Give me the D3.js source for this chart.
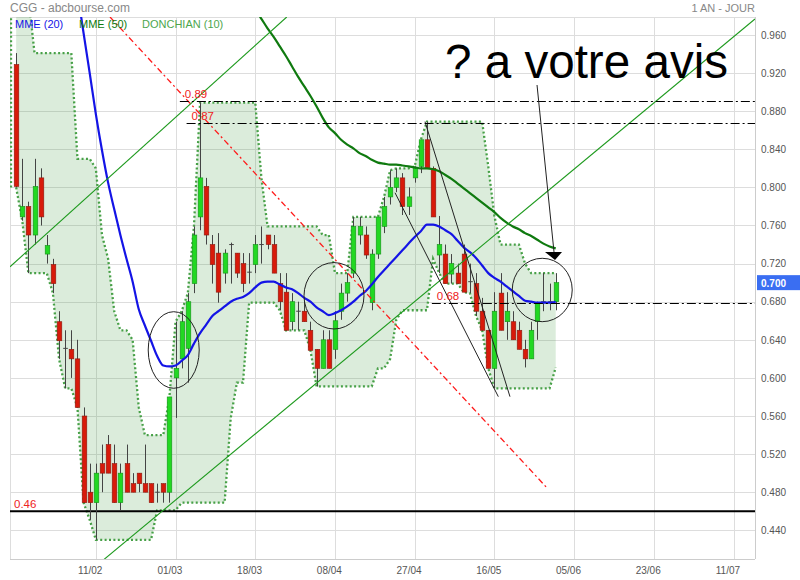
<!DOCTYPE html>
<html><head><meta charset="utf-8">
<script src="https://cdn.jsdelivr.net/npm/d3@7"></script>
<style>body{margin:0;background:#fff}text{font-family:"Liberation Sans",Arial,Helvetica,sans-serif}</style>
</head><body>
<svg id="c" width="800" height="580"></svg>
<script>
// ---------- DATA ----------
const tickLabels = ["11/02","01/03","18/03","08/04","27/04","16/05","05/06","23/06","11/07"];
const tickIdx   = [12,25,38,51,64,77,90,103,116];
const gridIdx   = [13,26,39,52,65,78,91,104,117];
const yTicks = [0.44,0.48,0.52,0.56,0.60,0.64,0.68,0.72,0.76,0.80,0.84,0.88,0.92,0.96];

const open  = [.929,.769,.780,.750,.810,.730,.719,.659,.631,.630,.620,.560,.480,.469,.510,.530,.510,.469,.510,.489,
               .500,.489,.489,.480,.489,.480,.600,.620,.631,.699,.769,.801,.740,.731,.710,.740,.731,.720,.711,.719,
               .740,.750,.740,.699,.690,.659,.670,.670,.650,.630,.610,.640,.630,.670,.689,.710,.750,.750,.679,.730,
               .759,.790,.800,.810,.780,.810,.822,.850,.820,.729,.730,.709,.710,.730,.701,.699,.670,.650,.610,.689,
               .659,.659,.650,.630,.620,.659,.679,.680,.680];
const high  = [.941,.830,.785,.830,.820,.750,.725,.670,.650,.650,.640,.569,.510,.510,.530,.540,.530,.510,.530,.500,
               .500,.530,.489,.489,.489,.580,.659,.670,.689,.759,.889,.810,.750,.752,.735,.742,.731,.731,.731,.750,
               .759,.750,.750,.710,.710,.689,.680,.680,.659,.630,.650,.650,.670,.699,.710,.769,.769,.759,.735,.769,
               .790,.818,.820,.815,.800,.822,.850,.869,.822,.770,.740,.730,.720,.740,.720,.710,.684,.650,.690,.710,
               .690,.670,.659,.640,.659,.680,.710,.699,.710];
const low   = [.800,.765,.710,.740,.760,.720,.689,.620,.589,.600,.569,.469,.451,.430,.480,.500,.469,.461,.480,.480,
               .480,.480,.469,.469,.469,.469,.558,.610,.595,.689,.755,.740,.699,.679,.699,.699,.705,.690,.699,.710,
               .720,.735,.710,.671,.650,.650,.650,.659,.629,.591,.610,.610,.620,.661,.680,.705,.740,.725,.671,.725,
               .752,.782,.795,.771,.771,.805,.815,.820,.769,.710,.699,.699,.699,.690,.689,.665,.650,.610,.589,.650,
               .640,.640,.630,.611,.620,.640,.670,.671,.671];
const close = [.801,.780,.750,.801,.769,.739,.699,.639,.630,.620,.569,.469,.469,.500,.500,.500,.469,.500,.480,.480,
               .489,.480,.469,.480,.480,.580,.610,.659,.680,.750,.810,.750,.719,.690,.731,.739,.710,.699,.710,.740,
               .740,.740,.710,.680,.650,.680,.670,.659,.629,.610,.640,.610,.660,.689,.700,.759,.759,.729,.730,.769,
               .780,.800,.810,.780,.790,.820,.850,.820,.769,.740,.699,.720,.699,.690,.699,.670,.650,.610,.670,.650,
               .670,.640,.630,.620,.650,.678,.680,.679,.700];

const mme20 = [null,null,null,null,null,null,null,null,null,null,
               1.005,.962,.920,.877,.839,.805,.777,.750,.725,.701,.672,.655,.639,.623,.613,.612,.613,.618,.624,.636,
               .647,.656,.665,.670,.675,.680,.683,.685,.689,.695,.700,.701,.701,.698,.695,.693,.689,.684,.680,.674,
               .670,.666,.668,.671,.675,.680,.686,.691,.698,.706,.713,.720,.727,.734,.741,.748,.754,.761,.761,.759,
               .755,.751,.744,.737,.732,.726,.718,.710,.705,.701,.696,.691,.686,.681,.680,.679,.679,.679,.680];
const mme50 = [null,null,null,null,null,null,null,null,null,null,null,null,null,null,null,null,null,null,null,null,
               null,null,null,null,null,null,null,null,null,null,null,null,null,null,null,null,null,null,
               .996,.987,.977,.967,.958,.948,.938,.927,.916,.906,.896,.885,.873,.863,.857,.850,.845,.841,.836,.833,
               .829,.826,.825,.824,.824,.823,.822,.821,.820,.820,.819,.817,.813,.809,.804,.799,.794,.789,.784,.779,
               .774,.768,.763,.759,.756,.752,.749,.745,.741,.738,.736];

const donchUp  = [1.00,1.00,1.00,.941,.941,.941,.941,.941,.941,.941,.830,.830,.830,.820,.750,.725,.670,.650,.650,.640,
                  .569,.540,.540,.540,.540,.580,.659,.670,.689,.759,.889,.889,.889,.889,.889,.889,.889,.889,.889,.889,
                  .810,.759,.759,.759,.759,.759,.759,.759,.759,.759,.750,.750,.710,.710,.710,.769,.769,.769,.769,.769,
                  .790,.818,.820,.820,.820,.822,.850,.869,.869,.869,.869,.869,.869,.869,.869,.869,.869,.822,.770,.740,
                  .740,.740,.740,.720,.710,.710,.710,.710,.710];
const donchLow = [.800,.765,.710,.710,.710,.710,.689,.620,.589,.589,.569,.469,.451,.430,.430,.430,.430,.430,.430,.430,
                  .430,.430,.430,.461,.461,.461,.461,.469,.469,.469,.469,.469,.469,.469,.469,.558,.595,.595,.679,.679,
                  .679,.679,.679,.671,.650,.650,.650,.650,.629,.591,.591,.591,.591,.591,.591,.591,.591,.591,.591,.610,
                  .610,.620,.661,.671,.671,.671,.671,.671,.725,.710,.699,.699,.699,.690,.689,.665,.650,.610,.589,.589,
                  .589,.589,.589,.589,.589,.589,.589,.589,.611];

// annotation levels & drawn lines (data coordinates: candle index, price)
const levels = [
  {v:0.891, from:26.7, label:"0.89"},
  {v:0.868, from:27.8, label:"0.87"},
  {v:0.679, from:67.8, label:"0.68"}
];
const supportLevel = {v:0.46, label:"0.46"};
const greenLines = [[[-1,0.7167],[44.13,0.9789]], [[14.22,0.4088],[120.5,0.9768]]];
const redLine = [[15.31,0.9789],[86.74,0.4834]];
const blackLines = [[[66.68,0.869],[80.54,0.5803]], [[61.79,0.7944],[78.64,0.5803]]];
const arrowLine = [[84.95,0.9075],[87.72,0.7322]];
const ellipses = [{i:25.7,v:0.6293,rx:25.5,ry:38.3},{i:51.84,v:0.6862,rx:30,ry:33.2},{i:85.8,v:0.6923,rx:30,ry:31.7}];

// ---------- CHART ----------
const P = {l:10, r:755, t:17, b:559};
const svg = d3.select("#c");
const x = d3.scaleLinear().domain([-1,120.5]).range([P.l,P.r]);
const y = d3.scaleLinear().domain([0.44,0.96]).range([530.3,35]);

svg.append("defs").append("clipPath").attr("id","clip")
  .append("rect").attr("x",P.l).attr("y",P.t).attr("width",P.r-P.l).attr("height",P.b-P.t);

// grid
const grid = svg.append("g");
grid.selectAll(".hg").data(yTicks).join("line")
  .attr("x1",P.l).attr("x2",P.r).attr("y1",d=>Math.round(y(d))+0.5).attr("y2",d=>Math.round(y(d))+0.5)
  .attr("stroke","#dddddd");
grid.selectAll(".vg").data(gridIdx).join("line")
  .attr("y1",P.t).attr("y2",P.b).attr("x1",d=>Math.round(x(d))+0.5).attr("x2",d=>Math.round(x(d))+0.5)
  .attr("stroke","#dddddd");
// frame
svg.append("line").attr("x1",P.l).attr("x2",P.r).attr("y1",P.t+0.5).attr("y2",P.t+0.5).attr("stroke","#dddddd");
svg.append("line").attr("x1",P.l).attr("x2",P.r).attr("y1",P.b+0.5).attr("y2",P.b+0.5).attr("stroke","#cccccc");
svg.append("line").attr("x1",P.l+0.5).attr("x2",P.l+0.5).attr("y1",P.t).attr("y2",P.b).attr("stroke","#dddddd");

const g = svg.append("g").attr("clip-path","url(#clip)");
const idx = d3.range(open.length);

// Donchian band
const area = d3.area().x(i=>x(i)).y0(i=>y(donchLow[i])).y1(i=>y(donchUp[i]));
g.append("path").datum(idx).attr("d",area).attr("fill","rgba(76,160,76,0.2)");
const bandStroke = {stroke:"#47a047","stroke-width":2.3,"stroke-dasharray":"2,2.4",fill:"none"};
function styleIt(sel,o){for(const k in o) sel.attr(k,o[k]); return sel;}
styleIt(g.append("path").datum(idx).attr("d",d3.line().x(i=>x(i)).y(i=>y(donchUp[i]))),bandStroke);
styleIt(g.append("path").datum(idx).attr("d",d3.line().x(i=>x(i)).y(i=>y(donchLow[i]))),bandStroke);
styleIt(g.append("line").attr("x1",P.l+1).attr("x2",P.l+1).attr("y1",y(donchLow[0])).attr("y2",y(donchUp[0])),bandStroke);

// support line 0.46
g.append("line").attr("x1",P.l).attr("x2",P.r).attr("y1",y(supportLevel.v)).attr("y2",y(supportLevel.v))
  .attr("stroke","#000").attr("stroke-width",2);

// candles
const bw = 4.6;
const cg = g.append("g");
idx.forEach(i=>{
  const up = close[i] >= open[i];
  const cx = Math.round(x(i))+0.5;
  cg.append("line").attr("x1",cx).attr("x2",cx).attr("y1",y(high[i])).attr("y2",y(low[i]))
    .attr("stroke","#444").attr("stroke-width",1);
  const top = y(Math.max(open[i],close[i])), bot = y(Math.min(open[i],close[i]));
  const h = Math.max(1, bot-top);
  if (Math.abs(open[i]-close[i]) < 0.0025) {
    cg.append("line").attr("x1",cx-bw/2).attr("x2",cx+bw/2).attr("y1",top).attr("y2",top)
      .attr("stroke","#444").attr("stroke-width",1);
  } else {
    cg.append("rect").attr("x",cx-bw/2).attr("y",top).attr("width",bw).attr("height",h)
      .attr("fill",up?"#22d822":"#d81a0a").attr("stroke",up?"#15901a":"#8a1a10").attr("stroke-width",0.6);
  }
});

// moving averages
g.append("path").datum(idx).attr("d",d3.line().defined(i=>mme20[i]!=null).x(i=>x(i)).y(i=>y(mme20[i])).curve(d3.curveMonotoneX))
  .attr("fill","none").attr("stroke","#1414e6").attr("stroke-width",2.2);
g.append("path").datum(idx).attr("d",d3.line().defined(i=>mme50[i]!=null).x(i=>x(i)).y(i=>y(mme50[i])).curve(d3.curveMonotoneX))
  .attr("fill","none").attr("stroke","#0f7a0f").attr("stroke-width",2.2);

// trend lines
const lp = d3.line().x(d=>x(d[0])).y(d=>y(d[1]));
greenLines.forEach(l=>g.append("path").attr("d",lp(l)).attr("stroke","#1e9a1e").attr("stroke-width",1.1).attr("fill","none"));
g.append("path").attr("d",lp(redLine)).attr("stroke","#ff1a1a").attr("stroke-width",1.3).attr("stroke-dasharray","6,3,2,3").attr("fill","none");
blackLines.forEach(l=>g.append("path").attr("d",lp(l)).attr("stroke","#222").attr("stroke-width",1).attr("fill","none"));

// levels
levels.forEach(L=>{
  g.append("line").attr("x1",x(L.from)).attr("x2",P.r).attr("y1",Math.round(y(L.v))+0.5).attr("y2",Math.round(y(L.v))+0.5)
   .attr("stroke","#000").attr("stroke-width",1.1).attr("stroke-dasharray","9,3,2,3");
  svg.append("text").attr("x",x(L.from)+5).attr("y",y(L.v)-3).attr("fill","#ee2222").attr("font-size",11.5).text(L.label);
});
svg.append("text").attr("x",P.l+4).attr("y",y(supportLevel.v)-3).attr("fill","#ee2222").attr("font-size",11.5).text(supportLevel.label);

// ellipses
ellipses.forEach(e=>g.append("ellipse").attr("cx",x(e.i)).attr("cy",y(e.v)).attr("rx",e.rx).attr("ry",e.ry)
  .attr("fill","none").attr("stroke","#222").attr("stroke-width",1));

// arrow
g.append("path").attr("d",lp(arrowLine)).attr("stroke","#222").attr("stroke-width",1).attr("fill","none");
const ax = x(arrowLine[1][0]), ay = y(arrowLine[1][1]);
g.append("path").attr("d",`M${ax-9},${ay}L${ax+8},${ay}L${ax+1},${ay+8}Z`).attr("fill","#000");

// big annotation text
svg.append("text").attr("x",445).attr("y",78).attr("font-size",47.6).attr("fill","#000").text("? a votre avis");

// axes
const yAxis = svg.append("g").attr("transform",`translate(${P.r},0)`)
  .call(d3.axisRight(y).tickValues(yTicks).tickFormat(d3.format(".3f")).tickSize(0).tickPadding(6));
yAxis.select(".domain").remove();
yAxis.selectAll("text").attr("fill","#555").attr("font-size",10).style("font-family","'Liberation Sans',Arial,sans-serif");
svg.append("line").attr("x1",P.r+0.5).attr("x2",P.r+0.5).attr("y1",P.t).attr("y2",P.b).attr("stroke","#cccccc");

const xAxis = svg.append("g").attr("transform",`translate(0,${P.b})`)
  .call(d3.axisBottom(x).tickValues(tickIdx).tickFormat((d,i)=>tickLabels[i]).tickSize(0).tickPadding(8));
xAxis.select(".domain").remove();
xAxis.selectAll("text").attr("fill","#555").attr("font-size",10).style("font-family","'Liberation Sans',Arial,sans-serif");

// last price badge
const last = close[close.length-1];
svg.append("rect").attr("x",757).attr("y",y(last)-7.5).attr("width",43).attr("height",15).attr("fill","#3a6ef2");
svg.append("text").attr("x",761).attr("y",y(last)+4).attr("fill","#fff").attr("font-size",10).attr("font-weight","bold").text(d3.format(".3f")(last));

// titles & legend
svg.append("text").attr("x",10).attr("y",12).attr("font-size",12).attr("fill","#888").text("CGG - abcbourse.com");
svg.append("text").attr("x",755).attr("y",12).attr("text-anchor","end").attr("font-size",11).attr("fill","#888").text("1 AN - JOUR");
const legend = [{t:"MME (20)",c:"#1414e6",x:15},{t:"MME (50)",c:"#0f7a0f",x:79},{t:"DONCHIAN (10)",c:"#4da64d",x:142}];
legend.forEach(l=>svg.append("text").attr("x",l.x).attr("y",28).attr("font-size",11).attr("fill",l.c).text(l.t));
</script>
</body></html>
